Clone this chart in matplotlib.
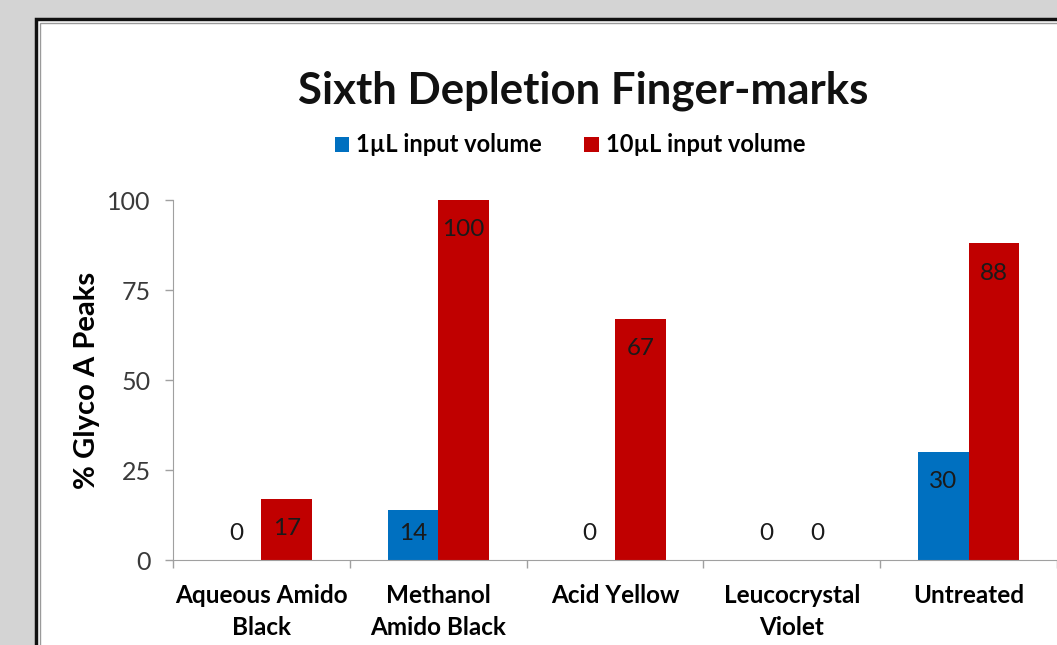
import matplotlib.pyplot as plt
import numpy as np
from matplotlib.patches import Rectangle

plt.rcParams["font.family"] = ["Lato", "DejaVu Sans"]

categories = ["Aqueous Amido\nBlack", "Methanol\nAmido Black", "Acid Yellow",
              "Leucocrystal\nViolet", "Untreated"]
series_names = ["1µL input volume", "10µL input volume"]
vals_1ul = [0, 14, 0, 0, 30]
vals_10ul = [17, 100, 67, 0, 88]
colors = ["#0070C0", "#C00000"]
yticks = [0, 25, 50, 75, 100]

W, H = 1057, 645
fig = plt.figure(figsize=(W / 100, H / 100), dpi=100)
fig.patch.set_facecolor("#d4d4d4")

# white chart panel with dark frame (cropped at the right and bottom)
panel = Rectangle((36 / W, -0.1), 1.2, (H - 19) / H + 0.1, transform=fig.transFigure,
                  facecolor="white", edgecolor="#111111", linewidth=2.5, zorder=-2)
fig.patches.append(panel)
inner = Rectangle((40 / W, -0.1), 1.2, (H - 23) / H + 0.1, transform=fig.transFigure,
                  facecolor="none", edgecolor="#9a9a9a", linewidth=1.0, zorder=-1)
fig.patches.append(inner)

ax = fig.add_axes([173 / W, 85 / H, (W - 173) / W, 360 / H])
ax.set_facecolor("none")

x = np.arange(len(categories))
bw = 1 / 3.5
bars = []
for i, (vals, c, name) in enumerate(zip([vals_1ul, vals_10ul], colors, series_names)):
    b = ax.bar(x + (i - 0.5) * bw, vals, bw, color=c, label=name, zorder=2)
    bars.append(b)
    for xi, v in zip(x + (i - 0.5) * bw, vals):
        ax.text(xi, max(v - 8.3, 7.5), str(v), ha="center", va="center",
                fontsize=17.5, color="#1a1a1a", zorder=3)

ax.set_xlim(-0.5, len(categories) - 0.5)
ax.set_ylim(0, 100)
ax.set_yticks(yticks)
ax.set_yticklabels([str(t) for t in yticks], fontsize=18, color="#3a3a3a")
ax.set_xticks(x)
ax.set_xticklabels(categories, fontsize=17.5, fontweight="bold", linespacing=1.5)
ax.tick_params(axis="x", length=0, pad=17)
ax.tick_params(axis="y", length=6, width=1, color="#a0a0a0", pad=10)
ax.set_xticks(np.arange(len(categories) + 1) - 0.5, minor=True)
ax.tick_params(axis="x", which="minor", length=6, width=1, color="#a0a0a0")
for s in ["top", "right"]:
    ax.spines[s].set_visible(False)
for s in ["left", "bottom"]:
    ax.spines[s].set_color("#a0a0a0")
ax.set_ylabel("% Glyco A Peaks", fontsize=21, fontweight="bold", labelpad=5)

fig.text(583 / W, 1 - 91 / H, "Sixth Depletion Finger-marks", ha="center", va="center",
         fontsize=31.5, fontweight="bold", color="#111111")
fig.legend(handles=bars, labels=series_names, loc="center", ncol=2,
           bbox_to_anchor=(570 / W, 1 - 145 / H), frameon=False,
           prop={"size": 17, "weight": "bold"}, handlelength=0.6, handleheight=0.6,
           handletextpad=0.3, columnspacing=1.8)

fig.savefig("out.png", dpi=100)
